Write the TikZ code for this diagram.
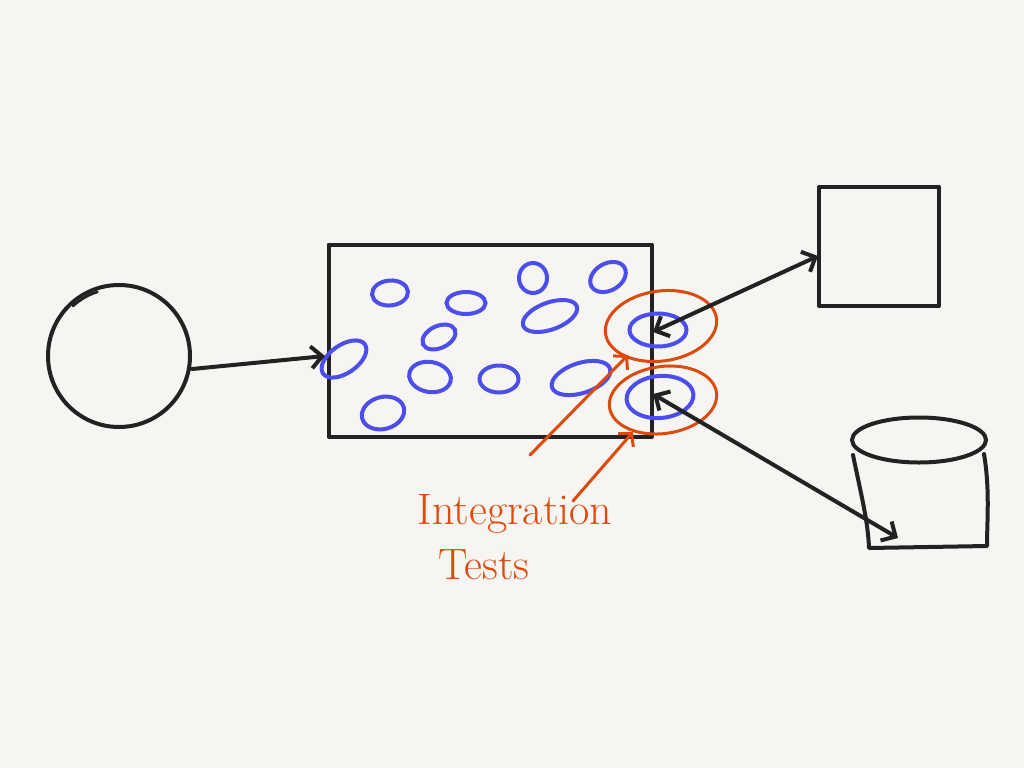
\documentclass[tikz,border=0pt]{standalone}
\usetikzlibrary{arrows.meta,shapes.geometric}
\definecolor{bg}{HTML}{F6F5F2}
\definecolor{ink}{HTML}{222222}
\definecolor{blu}{HTML}{4B4EEA}
\definecolor{org}{HTML}{DD4A0E}
\tikzset{
  inkline/.style={draw=ink,line width=4pt,line cap=round,line join=round},
  blob/.style={ellipse,draw=blu,line width=4pt,inner sep=0pt},
  ring/.style={ellipse,draw=org,line width=3pt,inner sep=0pt},
  blackarrow/.style={inkline,-{Straight Barb[length=11pt,width=22pt,line width=4pt]}},
  blackdouble/.style={inkline,{Straight Barb[length=11pt,width=22pt,line width=4pt]}-{Straight Barb[length=11pt,width=22pt,line width=4pt]}},
  orgarrow/.style={draw=org,line width=3pt,line cap=round,-{Straight Barb[length=9pt,width=20pt,line width=3pt]}},
  label/.style={text=org,font=\fontsize{44}{48}\selectfont,inner sep=0pt,anchor=base}
}
\begin{document}
\begin{tikzpicture}[x=1pt,y=-1pt]
\useasboundingbox (0,0) rectangle (1024,768);
\fill[bg] (0,0) rectangle (1024,768);

% client circle
\node[circle,inkline,minimum size=142pt,inner sep=0pt] (client) at (119,356) {};
\draw[ink,line width=2.6pt,line cap=round] (73,306) arc[start angle=132,end angle=108,radius=68pt];

% system rectangle
\node[rectangle,inkline,minimum width=323pt,minimum height=192pt,inner sep=0pt] (sys) at (490,340.5) {};

% square service
\node[rectangle,inkline,minimum width=120pt,minimum height=119pt,inner sep=0pt] (svc) at (879,246.5) {};

% database cylinder
\node[blob,draw=ink,minimum width=134pt,minimum height=45pt] (dbtop) at (919,440) {};
\draw[inkline] (853,455) .. controls (860,490) and (868,520) .. (869,548)
  -- (987,546) .. controls (987,520) and (990,490) .. (984,454);

% blue components
\node[blob,minimum width=36pt,minimum height=25pt,rotate=5] (c1) at (390,293) {};
\node[blob,minimum width=39pt,minimum height=22pt] (c2) at (466,303) {};
\node[blob,minimum width=28pt,minimum height=30pt] (c3) at (533,278) {};
\node[blob,minimum width=38pt,minimum height=27pt,rotate=30] (c4) at (608,277) {};
\node[blob,minimum width=57pt,minimum height=27pt,rotate=20] (c5) at (550,316) {};
\node[blob,minimum width=35pt,minimum height=22pt,rotate=25] (c6) at (439,337) {};
\node[blob,minimum width=51pt,minimum height=28pt,rotate=35] (c7) at (344,359) {};
\node[blob,minimum width=42pt,minimum height=30pt,rotate=-10] (c8) at (430,377) {};
\node[blob,minimum width=39pt,minimum height=27pt] (c9) at (499,379) {};
\node[blob,minimum width=61pt,minimum height=30pt,rotate=18] (c10) at (581,378) {};
\node[blob,minimum width=43pt,minimum height=32pt,rotate=15] (c11) at (383,413) {};
\node[blob,minimum width=57pt,minimum height=33pt] (c12) at (658,330) {};
\node[blob,minimum width=67pt,minimum height=42pt,rotate=5] (c13) at (660,397) {};

% orange rings
\node[ring,minimum width=112pt,minimum height=70pt,rotate=8] (r1) at (661,326) {};
\node[ring,minimum width=108pt,minimum height=67pt,rotate=8] (r2) at (663,400) {};

% connectors
\coordinate (clientout) at (192,369);
\coordinate (sysin) at (325,356);
\draw[blackarrow] (clientout) -- (sysin);

\coordinate (c12in) at (653,332);
\coordinate (svcin) at (818,256);
\draw[blackdouble] (c12in) -- (svcin);

\coordinate (c13in) at (653,394);
\coordinate (dbin) at (898,538);
\draw[blackdouble] (c13in) -- (dbin);

% label
\node[label] (lbl1) at (515,524) {Integration};
\node[label] (lbl2) at (484,579) {Tests};

\coordinate (a1s) at (530,455);
\coordinate (a1e) at (628,355);
\coordinate (a2s) at (573,501);
\coordinate (a2e) at (633,432);
\draw[orgarrow] (a1s) -- (a1e);
\draw[orgarrow] (a2s) -- (a2e);
\end{tikzpicture}
\end{document}
